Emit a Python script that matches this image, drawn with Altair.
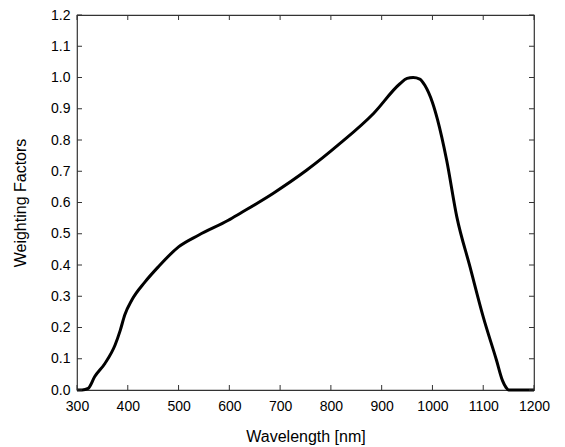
import pandas as pd
import altair as alt

# ── data ────────────────────────────────────────────────────────────────────

WAVELENGTH = [300, 310, 322, 335, 355, 375, 385, 394, 408, 434, 460, 500,
              540, 598, 621, 686, 752, 818, 884, 936, 950, 962, 975, 985,
              1000, 1010, 1028, 1048, 1074, 1100, 1126, 1138, 1145, 1150,
              1160, 1200]
WEIGHT = [0.0, 0.0, 0.005, 0.043, 0.085, 0.144, 0.19, 0.24, 0.288, 0.346,
          0.394, 0.458, 0.496, 0.543, 0.565, 0.629, 0.703, 0.789, 0.885,
          0.98, 0.997, 1.0, 0.995, 0.975, 0.92, 0.865, 0.735, 0.554, 0.394,
          0.234, 0.096, 0.03, 0.008, 0.0, 0.0, 0.0]

X_TICKS = [300, 400, 500, 600, 700, 800, 900, 1000, 1100, 1200]
Y_TICKS = [0.0, 0.1, 0.2, 0.3, 0.4, 0.5, 0.6, 0.7, 0.8, 0.9, 1.0, 1.1, 1.2]

# ── layout ───────────────────────────────────────────────────────────────────

W, H = 457, 375
TICK = 5
FRAME = "#333333"
FONT = "Liberation Sans"

curve_df = pd.DataFrame({"nm": WAVELENGTH, "w": WEIGHT})
xt_df = pd.DataFrame({"nm": X_TICKS})
yt_df = pd.DataFrame({"w": Y_TICKS})

x_scale = alt.Scale(domain=[300, 1200], nice=False, zero=False)
y_scale = alt.Scale(domain=[0, 1.2], nice=False)

axis_common = dict(
    ticks=False, tickSize=0, domain=False, grid=False,
    labelOverlap=False, labelFlush=False, labelFontSize=14,
    titleFontSize=16, titleFontWeight="normal",
    labelColor="black", titleColor="black",
)
x_axis = alt.Axis(values=X_TICKS, format="d", labelPadding=9,
                  titlePadding=15, **axis_common)
y_axis = alt.Axis(values=Y_TICKS, format=".1f", labelPadding=7,
                  titlePadding=22, **axis_common)

X_ENC = dict(scale=x_scale, axis=x_axis, title="Wavelength [nm]")
Y_ENC = dict(scale=y_scale, axis=y_axis, title="Weighting Factors")

curve = (
    alt.Chart(curve_df)
    .mark_line(color="black", strokeWidth=3, interpolate="monotone")
    .encode(x=alt.X("nm:Q", **X_ENC), y=alt.Y("w:Q", **Y_ENC))
)

# inward ticks on all four sides
bottom_ticks = alt.Chart(xt_df).mark_rule(color=FRAME).encode(
    x=alt.X("nm:Q", **X_ENC), y=alt.value(H), y2=alt.value(H - TICK),
)
top_ticks = alt.Chart(xt_df).mark_rule(color=FRAME).encode(
    x=alt.X("nm:Q", **X_ENC), y=alt.value(0), y2=alt.value(TICK),
)
left_ticks = alt.Chart(yt_df).mark_rule(color=FRAME).encode(
    y=alt.Y("w:Q", **Y_ENC), x=alt.value(0), x2=alt.value(TICK),
)
right_ticks = alt.Chart(yt_df).mark_rule(color=FRAME).encode(
    y=alt.Y("w:Q", **Y_ENC), x=alt.value(W), x2=alt.value(W - TICK),
)

chart = (
    alt.layer(curve, bottom_ticks, top_ticks, left_ticks, right_ticks)
    .properties(
        width=W,
        height=H,
        autosize=alt.AutoSizeParams(type="none"),
        padding={"left": 69, "top": 7, "right": 20, "bottom": 60},
    )
    .configure(font=FONT, background="white")
    .configure_view(stroke=FRAME, strokeWidth=1.2)
)

chart.save("out.html", embed_options={"renderer": "svg", "actions": False})
